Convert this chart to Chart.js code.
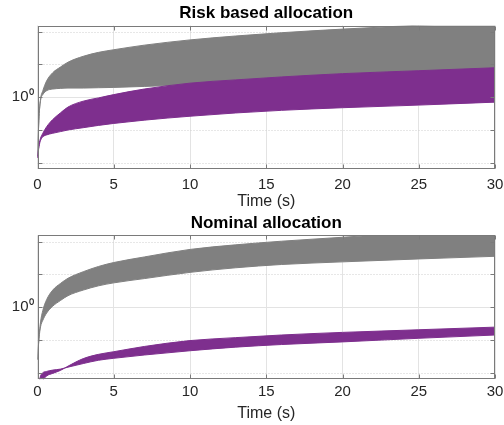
<!DOCTYPE html>
<html>
<head>
<meta charset="utf-8">
<script src="https://cdn.jsdelivr.net/npm/chart.js@4.4.1/dist/chart.umd.min.js"></script>
<style>
  html, body { margin: 0; padding: 0; background: #fff; }
  #wrap { position: relative; width: 504px; height: 425px; }
  canvas { position: absolute; left: 0; }
</style>
</head>
<body>
<div id="wrap">
  <canvas id="riskChart" width="504" height="212" style="top:0"></canvas>
  <canvas id="nominalChart" width="504" height="213" style="top:212px"></canvas>
</div>
<script>
// time samples (s), shared by every band
const time = [0, 0.1, 0.2, 0.35, 0.6, 1, 1.5, 2, 3, 4, 5, 7, 10, 13, 16, 20, 25, 30];

// Risk based allocation
const riskGrayHigh = [0.01585, 0.2512, 0.8913, 1.585, 3.162, 5.623, 8.318, 11.75, 17.78, 23.44, 28.18, 38.90, 56.23, 74.13, 93.33, 120.2, 158.5, 199.5];
const riskGrayLow = [0.01585, 0.2512, 0.7943, 1.202, 1.585, 1.778, 1.862, 1.905, 1.905, 1.950, 1.995, 2.138, 2.399, 2.818, 3.162, 3.548, 3.981, 4.467];
const riskPurpleHigh = [0.01413, 0.03548, 0.05623, 0.07943, 0.1259, 0.2089, 0.3311, 0.5012, 0.7586, 0.9550, 1.202, 1.778, 2.692, 3.388, 4.169, 5.248, 6.457, 7.943];
const riskPurpleLow = [0.01413, 0.03162, 0.04786, 0.06166, 0.07079, 0.07943, 0.08913, 0.1, 0.1175, 0.1380, 0.1585, 0.1995, 0.2630, 0.3311, 0.3981, 0.4786, 0.5754, 0.7079];

// Nominal allocation
const nomGrayHigh = [0.02512, 0.1259, 0.3548, 0.7943, 1.698, 3.311, 5.248, 7.586, 12.02, 17.38, 22.91, 33.88, 57.54, 79.43, 102.3, 134.9, 190.5, 239.9];
const nomGrayLow = [0.02512, 0.1122, 0.2512, 0.3981, 0.6607, 1.072, 1.585, 2.239, 3.311, 4.467, 5.495, 7.413, 11.48, 15.85, 19.95, 23.99, 29.51, 35.48];
const nomPurpleA = [0.002512, 0.005012, 0.007943, 0.01, 0.01096, 0.01202, 0.01288, 0.01479, 0.01905, 0.02399, 0.02754, 0.03467, 0.04677, 0.06026, 0.07244, 0.08710, 0.1122, 0.1413];
const nomPurpleB = [0.001, 0.001585, 0.003162, 0.005623, 0.007943, 0.009550, 0.01175, 0.01585, 0.02692, 0.03631, 0.04365, 0.06310, 0.09550, 0.1175, 0.1413, 0.1698, 0.2042, 0.2455];

const xTicks = [0, 5, 10, 15, 20, 25, 30];
const yTicks = [0.01, 0.1, 1, 10, 100];

const GRAY = '#808080';
const PURPLE = '#7E2F8E';
const FONT = "'Liberation Sans', Arial, Helvetica, sans-serif";

// dotted minor grid, box and inward ticks like the matlab axes
const boxPlugin = {
    id: 'box',
    beforeDatasetsDraw(chart) {
        const { ctx, chartArea: a } = chart;
        const y = chart.scales.y;
        ctx.save();
        ctx.strokeStyle = '#cfcfcf';
        ctx.lineWidth = 1;
        ctx.setLineDash([1, 2]);
        yTicks.filter(v => v !== 1).forEach(v => {
            const p = Math.round(y.getPixelForValue(v)) + 0.5;
            ctx.beginPath();
            ctx.moveTo(a.left, p);
            ctx.lineTo(a.right, p);
            ctx.stroke();
        });
        ctx.restore();
    },
    afterDatasetsDraw(chart) {
        const { ctx, chartArea: a } = chart;
        const { x, y } = chart.scales;
        const L = Math.round(a.left) + 0.5, R = Math.round(a.right) - 0.5;
        const T = Math.round(a.top) + 0.5, B = Math.round(a.bottom) - 0.5;
        ctx.save();
        ctx.strokeStyle = '#7a7a7a';
        ctx.lineWidth = 1;
        ctx.strokeRect(L, T, R - L, B - T);
        ctx.beginPath();
        xTicks.forEach(v => {
            const p = Math.round(x.getPixelForValue(v)) + 0.5;
            ctx.moveTo(p, T); ctx.lineTo(p, T + 4);
            ctx.moveTo(p, B); ctx.lineTo(p, B - 4);
        });
        yTicks.forEach(v => {
            const p = Math.round(y.getPixelForValue(v)) + 0.5;
            ctx.moveTo(L, p); ctx.lineTo(L + 4, p);
            ctx.moveTo(R, p); ctx.lineTo(R - 4, p);
        });
        ctx.stroke();
        ctx.restore();
    }
};

function band(values, color, fill) {
    return {
        data: time.map((t, i) => ({ x: t, y: values[i] })),
        borderColor: color,
        backgroundColor: color,
        borderWidth: 1,
        pointRadius: 0,
        cubicInterpolationMode: 'monotone',
        fill: fill
    };
}

function makeChart(id, title, bands, lay) {
    return new Chart(document.getElementById(id), {
        type: 'line',
        data: {
            datasets: [
                band(bands.purpleLow, PURPLE, false),
                band(bands.purpleHigh, PURPLE, '-1'),
                band(bands.grayLow, GRAY, false),
                band(bands.grayHigh, GRAY, '-1')
            ]
        },
        plugins: [boxPlugin],
        options: {
            responsive: false,
            animation: false,
            layout: { padding: { left: 0, right: 9, top: 0, bottom: 0 } },
            plugins: {
                legend: { display: false },
                tooltip: { enabled: false },
                title: {
                    display: true,
                    text: title,
                    fullSize: false,
                    color: '#000',
                    font: { family: FONT, size: 17, weight: 'bold', lineHeight: 1.2 },
                    padding: lay.titlePad
                }
            },
            scales: {
                x: {
                    type: 'linear',
                    min: 0,
                    max: 30,
                    afterBuildTicks: s => { s.ticks = xTicks.map(v => ({ value: v })); },
                    afterFit: s => { s.height = lay.xHeight; s.paddingLeft = 0; s.paddingRight = 0; },
                    grid: { color: '#e3e3e3', drawTicks: false },
                    border: { display: false },
                    ticks: { color: '#262626', padding: lay.xTickPad, maxRotation: 0, font: { family: FONT, size: 15 } },
                    title: {
                        display: true,
                        text: 'Time (s)',
                        color: '#262626',
                        font: { family: FONT, size: 16 },
                        padding: { top: 0, bottom: lay.xTitlePad }
                    }
                },
                y: {
                    type: 'logarithmic',
                    min: 0.0063,
                    max: 155,
                    afterBuildTicks: s => { s.ticks = yTicks.map(v => ({ value: v })); },
                    afterFit: s => { s.width = 37.5; s.paddingTop = 0; s.paddingBottom = 0; },
                    grid: {
                        color: c => (c.tick && c.tick.value === 1) ? '#e3e3e3' : 'rgba(0,0,0,0)',
                        drawTicks: false
                    },
                    border: { display: false },
                    ticks: {
                        autoSkip: false,
                        color: '#262626',
                        padding: 4,
                        font: { family: FONT, size: 15 },
                        callback: v => v === 1 ? '10\u2070' : ''
                    }
                }
            }
        }
    });
}

makeChart('riskChart', 'Risk based allocation', {
    grayHigh: riskGrayHigh, grayLow: riskGrayLow,
    purpleHigh: riskPurpleHigh, purpleLow: riskPurpleLow
}, { titlePad: { top: 3.5, bottom: 1.6 }, xHeight: 42.7, xTickPad: 7, xTitlePad: 0.5 });

makeChart('nominalChart', 'Nominal allocation', {
    grayHigh: nomGrayHigh, grayLow: nomGrayLow,
    purpleHigh: nomPurpleB, purpleLow: nomPurpleA
}, { titlePad: { top: 1.5, bottom: 1.4 }, xHeight: 45.7, xTickPad: 3.5, xTitlePad: 1.5 });
</script>
</body>
</html>
